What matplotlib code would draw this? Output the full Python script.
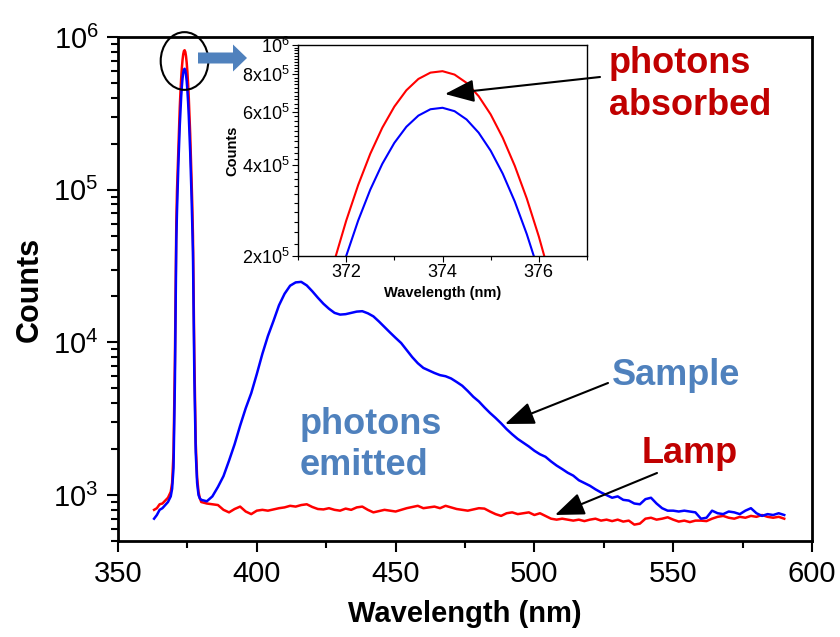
import numpy as np
import matplotlib
matplotlib.use("Agg")
import matplotlib.pyplot as plt
from matplotlib.patches import Ellipse, FancyArrow
from matplotlib.ticker import FixedLocator, MultipleLocator, NullFormatter

plt.rcParams['font.family'] = ['Liberation Sans', 'DejaVu Sans']
plt.rcParams['mathtext.default'] = 'regular'

# wavelength grid (nm): coarse foot, fine sampling across the excitation peak, then 2 nm steps
wl_left = [363, 364, 365, 366, 367, 368, 369, 369.5, 370, 370.5]
wl_peak = list(np.arange(371.0, 377.01, 0.25))
wl_right = [377.5, 378, 378.5, 379, 379.5, 380, 381]
wl_tail = list(range(382, 591, 2))
wavelength = np.array(wl_left + wl_peak + wl_right + wl_tail)

lamp_left = [800, 820, 870, 880, 920, 960, 1050, 1200, 1900, 7500]
lamp_peak = [60000, 98000, 135000, 191600, 261600, 344000, 436000, 532000, 625000,
             708000, 772000, 810000, 819000, 798000, 749000, 677000, 589000,
             493000, 398000, 310000, 232000, 167000, 116000, 80000, 50000]
lamp_right = [8000, 2200, 1300, 1050, 950, 900, 890]
lamp_tail = [880, 870, 860, 800, 770, 810, 840, 780, 750, 790,
             800, 790, 805, 820, 830, 850, 840, 860, 870, 835,
             810, 805, 820, 800, 790, 815, 800, 830, 840, 800,
             770, 785, 800, 790, 780, 800, 820, 835, 850, 820,
             830, 840, 820, 850, 830, 810, 800, 790, 805, 820,
             815, 780, 750, 730, 760, 770, 750, 760, 770, 740,
             760, 730, 700, 690, 700, 690, 680, 690, 675, 690,
             700, 680, 690, 675, 690, 670, 680, 640, 650, 700,
             710, 690, 700, 715, 690, 670, 680, 665, 680, 680,
             675, 700, 720, 730, 710, 700, 720, 710, 730, 720,
             740, 720, 710, 720, 700]
lamp = np.array(lamp_left + lamp_peak + lamp_right + lamp_tail)

sample_left = [700, 740, 800, 820, 860, 900, 980, 1100, 1500, 5500]
sample_peak = [46500, 72000, 103900, 146800, 199900, 262300, 331600, 403900, 473900,
               535900, 583700, 612600, 619500, 603600, 566600, 512400, 446500,
               374900, 303200, 236300, 177400, 128300, 89500, 60000, 38900]
sample_right = [6000, 1900, 1200, 1000, 950, 930, 920]
sample_tail = [910, 980, 1130, 1330, 1680, 2150, 2850, 3700, 4650, 6200,
               8400, 11000, 13800, 17500, 20800, 23500, 24700, 24900, 23600, 21600,
               19600, 17900, 16600, 15600, 15200, 15300, 15600, 15900, 16000, 15500,
               14800, 13700, 12600, 11600, 10700, 9900, 8900, 8000, 7300, 6800,
               6550, 6300, 6100, 6000, 5800, 5500, 5200, 4800, 4400, 4100,
               3750, 3450, 3200, 2950, 2700, 2500, 2330, 2200, 2080, 1950,
               1850, 1780, 1660, 1560, 1480, 1400, 1340, 1250, 1200, 1150,
               1090, 1040, 1000, 960, 980, 930, 920, 880, 870, 940,
               960, 880, 820, 790, 790, 780, 790, 780, 770, 700,
               710, 790, 760, 750, 780, 770, 750, 790, 820, 760,
               730, 750, 740, 760, 740]
sample = np.array(sample_left + sample_peak + sample_right + sample_tail)

inset_yticks = [2e5, 4e5, 6e5, 8e5, 1e6]
inset_ylabels = ['2x10$^5$', '4x10$^5$', '6x10$^5$', '8x10$^5$', '10$^6$']

RED = '#ff0000'
BLUE = '#0000ff'
DARKRED = '#c00000'
STEEL = '#4f81bd'

W, H = 840, 637
fig = plt.figure(figsize=(8.4, 6.37), dpi=100)


def fx(px):
    return px / W


def fy(py):
    return 1 - py / H


ax = fig.add_axes([fx(118), fy(541), fx(812) - fx(118), fy(37) - fy(541)])
ax.plot(wavelength, lamp, color=RED, lw=1.8)
ax.plot(wavelength, sample, color=BLUE, lw=1.8)
ax.set_yscale('log')
ax.set_xlim(350, 600)
ax.set_ylim(500, 1e6)
ax.xaxis.set_major_locator(MultipleLocator(50))
ax.xaxis.set_minor_locator(MultipleLocator(25))
ax.tick_params(which='both', direction='out', width=1.5, labelsize=21, pad=6)
ax.tick_params(which='major', length=8)
ax.tick_params(which='minor', length=5)
for s in ax.spines.values():
    s.set_linewidth(2)
ax.set_xlabel('Wavelength (nm)', fontsize=21, fontweight='bold', labelpad=8)
ax.set_ylabel('Counts', fontsize=22, fontweight='bold', labelpad=6)

# inset with zoom on the excitation peak
axi = fig.add_axes([fx(298), fy(256), fx(587) - fx(298), fy(45) - fy(256)])
axi.plot(wavelength, lamp, color=RED, lw=1.5)
axi.plot(wavelength, sample, color=BLUE, lw=1.5)
axi.set_yscale('log')
axi.set_xlim(371, 377)
axi.set_ylim(2e5, 1e6)
axi.yaxis.set_major_locator(FixedLocator(inset_yticks))
axi.set_yticklabels(inset_ylabels)
axi.yaxis.set_minor_locator(FixedLocator(list(np.arange(2.2e5, 1e6, 2e4))))
axi.yaxis.set_minor_formatter(NullFormatter())
axi.xaxis.set_major_locator(FixedLocator([372, 374, 376]))
axi.xaxis.set_minor_locator(MultipleLocator(1))
axi.tick_params(which='both', direction='out', labelsize=13, width=0.8, pad=2)
axi.tick_params(which='major', length=4)
axi.tick_params(which='minor', length=3)
for s in axi.spines.values():
    s.set_linewidth(1)
axi.set_xlabel('Wavelength (nm)', fontsize=10.5, fontweight='bold', labelpad=3)
axi.set_ylabel('Counts', fontsize=10.5, fontweight='bold', labelpad=2)

# circle around the peak and the block arrow pointing to the inset
fig.add_artist(Ellipse((fx(184.5), fy(61)), 47.6 / W, 57.7 / H,
                       transform=fig.transFigure, fill=False, ec='black', lw=1.5))
fig.add_artist(FancyArrow(fx(198), fy(58), 49 / W, 0, width=11 / H, head_width=27 / H,
                          head_length=14 / W, length_includes_head=True,
                          transform=fig.transFigure, color=STEEL, lw=0))

arrow = dict(arrowstyle='-|>,head_length=0.9,head_width=0.35', color='black', lw=1.5,
             mutation_scale=20, shrinkA=0, shrinkB=0)
axi.annotate('', xy=(445, H - 94), xytext=(600, H - 77), xycoords='figure pixels',
             textcoords='figure pixels', arrowprops=arrow, annotation_clip=False)
ax.annotate('', xy=(505, H - 424), xytext=(608, H - 383), xycoords='figure pixels',
            textcoords='figure pixels', arrowprops=arrow, annotation_clip=False)
ax.annotate('', xy=(555, H - 515), xytext=(657, H - 473), xycoords='figure pixels',
            textcoords='figure pixels', arrowprops=arrow, annotation_clip=False)

txt = dict(fontsize=26, fontweight='bold', ha='left', va='baseline')
fig.text(fx(609), fy(73), 'photons', color=DARKRED, **txt)
fig.text(fx(609), fy(115), 'absorbed', color=DARKRED, **txt)
fig.text(fx(612), fy(385), 'Sample', color=STEEL, **txt)
fig.text(fx(642), fy(463), 'Lamp', color=DARKRED, **txt)
fig.text(fx(300), fy(434), 'photons', color=STEEL, **txt)
fig.text(fx(300), fy(475), 'emitted', color=STEEL, **txt)

fig.savefig('out.png', dpi=100)
